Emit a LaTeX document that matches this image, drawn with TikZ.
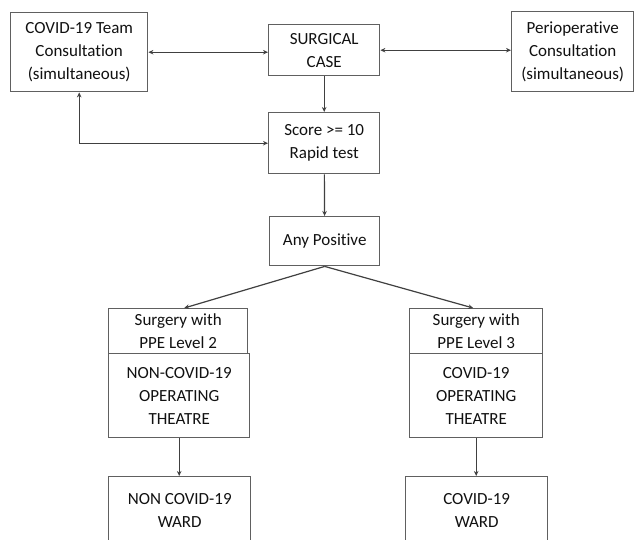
\documentclass[tikz,border=0pt]{standalone}
\usepackage{fontspec}
\setmainfont{Carlito}[Ligatures={NoCommon}]
\usetikzlibrary{arrows.meta,calc}
\definecolor{boxgray}{HTML}{606060}
\definecolor{linegray}{HTML}{404040}
\definecolor{textblack}{HTML}{111111}
\begin{document}
\begin{tikzpicture}[x=1pt,y=-1pt,
  box/.style={draw=boxgray,line width=1.4pt,fill=white,inner sep=0pt,align=center,
    font=\fontsize{17}{23}\selectfont,text=textblack,anchor=north west},
  tip/.tip={Stealth[length=5pt,width=4.5pt]},
  conn/.style={draw=linegray,line width=1.2pt,-tip},
  both/.style={draw=linegray,line width=1.2pt,tip-tip}]
\fill[white] (0,0) rectangle (634,539);
\useasboundingbox (0,0) rectangle (634,539);
\node[box,minimum width=137pt,minimum height=79pt] (covid) at (10,12) {COVID-19 Team\\Consultation\\(simultaneous)};
\node[box,minimum width=111pt,minimum height=51pt] (surg) at (268,24) {SURGICAL\\CASE};
\node[box,minimum width=122pt,minimum height=80pt] (peri) at (511,11) {Perioperative\\Consultation\\(simultaneous)};
\node[box,minimum width=111pt,minimum height=61pt] (score) at (268,112) {Score >= 10\\Rapid test};
\node[box,minimum width=110pt,minimum height=49pt] (anypos) at (269,216) {Any Positive};
\node[box,minimum width=139pt,minimum height=45pt] (lsurg) at (108,308) {Surgery with\\PPE Level 2};
\node[box,minimum width=141pt,minimum height=84pt] (lop) at (108,353) {NON-COVID-19\\OPERATING\\THEATRE};
\node[box,minimum width=133pt,minimum height=45pt] (rsurg) at (409,308) {Surgery with\\PPE Level 3};
\node[box,minimum width=133pt,minimum height=84pt] (rop) at (409,353) {COVID-19\\OPERATING\\THEATRE};
\node[box,minimum width=142pt,minimum height=68pt] (lward) at (108,476) {NON COVID-19\\WARD};
\node[box,minimum width=142pt,minimum height=68pt] (rward) at (405,476) {COVID-19\\WARD};
\draw[both] (covid.east) -- (covid.east -| surg.west);
\draw[both] (surg.east) -- (surg.east -| peri.west);
\draw[conn] (surg) -- (score);
\draw[both] (score.west) -| (covid.south);
\draw[conn] (score) -- (anypos);
\draw[conn] (anypos.south) -- ([xshift=6pt]lsurg.north);
\draw[conn] (anypos.south) -- ([xshift=-3pt]rsurg.north);
\draw[conn] (lop.south) -- (lop.south |- lward.north);
\draw[conn] (rop.south) -- (rop.south |- rward.north);
\end{tikzpicture}
\end{document}
